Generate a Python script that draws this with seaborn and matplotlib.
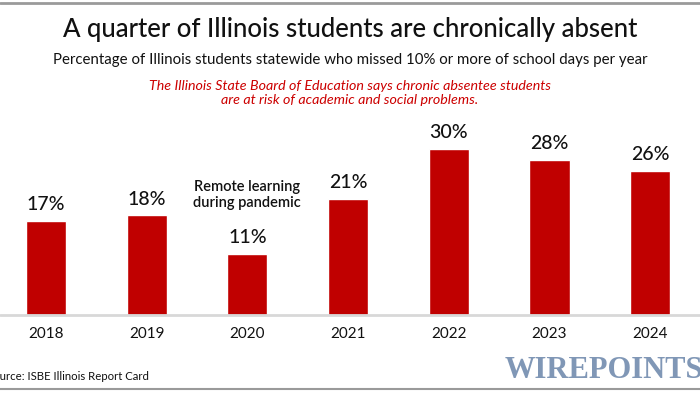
import matplotlib
matplotlib.use("Agg")
import matplotlib.pyplot as plt
import seaborn as sns
import pandas as pd
from matplotlib.lines import Line2D

years = ["2018", "2019", "2020", "2021", "2022", "2023", "2024"]
values = [17, 18, 11, 21, 30, 28, 26]
labels = ["17%", "18%", "11%", "21%", "30%", "28%", "26%"]

title = "A quarter of Illinois students are chronically absent"
subtitle = "Percentage of Illinois students statewide who missed 10% or more of school days per year"
note = "The Illinois State Board of Education says chronic absentee students\nare at risk of academic and social problems."
remote = "Remote learning\nduring pandemic"
source = "Source: ISBE Illinois Report Card"
brand = "WIREPOINTS"

sns.set_theme(style="white")
plt.rcParams['font.family'] = ['Lato', 'DejaVu Sans']

df = pd.DataFrame({"year": years, "value": values})

W, H = 700, 394
fig = plt.figure(figsize=(7, 3.94), dpi=100)
base_px = 315
ppu = 5.53
top_val = 35
ax = fig.add_axes([0, (H - base_px) / H, 1, top_val * ppu / H])

RED = "#c00000"
sns.barplot(data=df, x="year", y="value", color=RED, width=0.40, ax=ax, saturation=1)
ax.set_xlim(-0.457, 6.496)
ax.set_ylim(0, top_val)
ax.axis("off")

for i, (v, lab) in enumerate(zip(values, labels)):
    ax.text(i, v + 1.4, lab, ha="center", va="bottom", fontsize=14, color="#111111", fontweight="medium")
    ax.text(i, -3.5, years[i], ha="center", va="center", fontsize=11, color="#111111", clip_on=False)

ax.text(2, (315 - 195) / ppu, remote, ha="center", va="center", fontsize=10.5, color="#111111",
        fontweight="semibold", linespacing=1.15)

# baseline
fig.add_artist(Line2D([0, 1], [(H - base_px) / H] * 2, color="#d8d8d8", lw=2))
# top and bottom frame lines
fig.add_artist(Line2D([0, 1], [1 - 3 / H] * 2, color="#9a9a9a", lw=2))
fig.add_artist(Line2D([0, 1], [1 - 389 / H] * 2, color="#9a9a9a", lw=1.5))

fig.text(0.5, 1 - 37 / H, title, ha="center", va="baseline", fontsize=18.5, color="#111111", fontweight="medium")
fig.text(0.5, 1 - 64 / H, subtitle, ha="center", va="baseline", fontsize=10.8, color="#111111")
fig.text(0.5, 1 - 93 / H, note, ha="center", va="center", fontsize=10.3, color="#cc0000",
         style="italic", linespacing=1.3)
fig.text(-13 / W, 1 - 377 / H, source, ha="left", va="center", fontsize=8.2, color="#111111")
fig.text(505 / W, 1 - 370 / H, brand, ha="left", va="center", fontsize=22, color="#8097b6",
         family="Liberation Serif", fontweight="bold")

fig.savefig("out.png", dpi=100)
